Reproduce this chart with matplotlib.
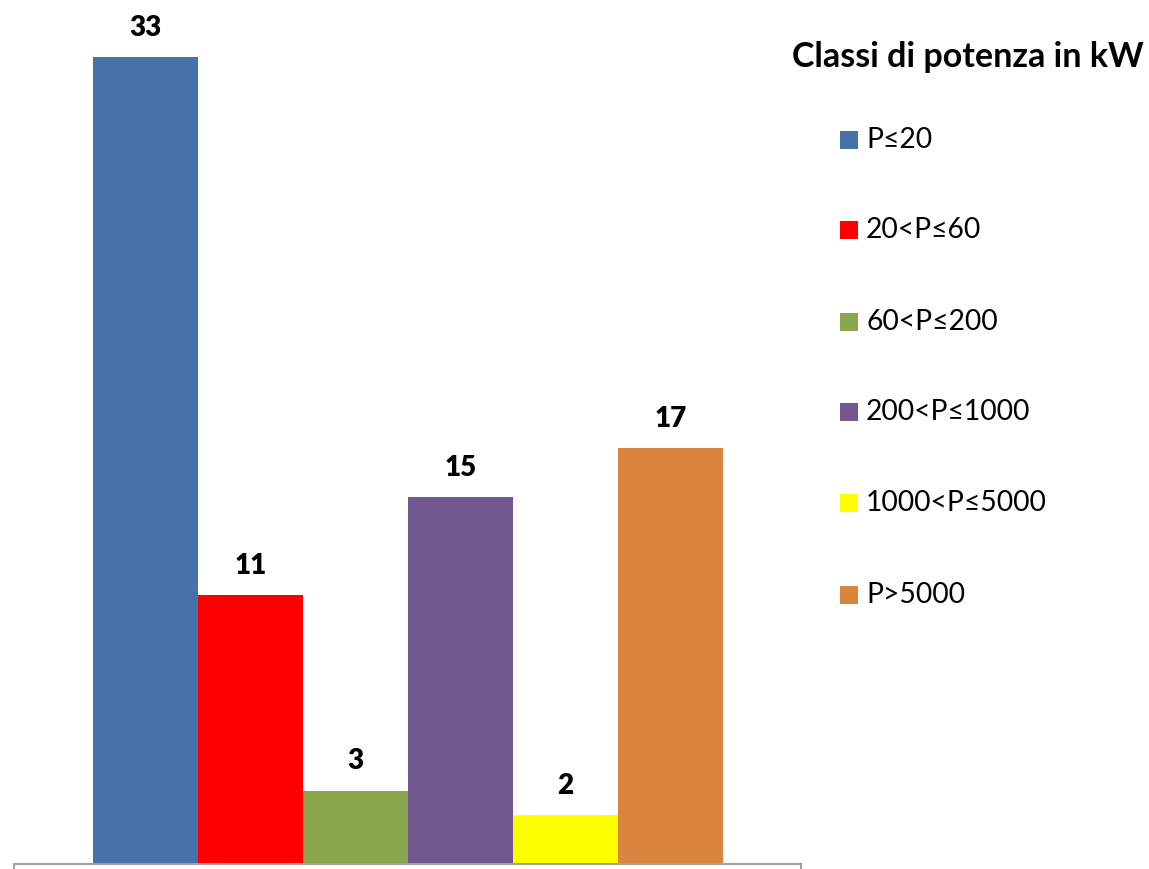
import matplotlib
matplotlib.use("Agg")
import matplotlib.pyplot as plt
from matplotlib.patches import Rectangle

categories = ["P≤20", "20<P≤60", "60<P≤200", "200<P≤1000", "1000<P≤5000", "P>5000"]
values = [33, 11, 3, 15, 2, 17]
colors = ["#4672A8", "#FF0000", "#89A54E", "#71588F", "#FFFF00", "#DB843D"]
legend_title = "Classi di potenza in kW"

plt.rcParams['font.family'] = ['Lato', 'DejaVu Sans']

W, H = 1149, 869
fig = plt.figure(figsize=(W / 100, H / 100), dpi=100)
ax = fig.add_axes([14 / W, 5 / H, (801 - 14) / W, 864 / H])

xs = list(range(len(values)))
for x, v, c, lab in zip(xs, values, colors, categories):
    ax.bar(x, v, width=1.0, color=c, label=lab, linewidth=0)
    ax.text(x, v + 1.2, str(v), ha='center', va='center', fontsize=20,
            fontweight='heavy', color='black')

xmin, xmax = -0.5 - 79 / 105, 5.5 + 78 / 105
ax.set_xlim(xmin, xmax)
ax.set_ylim(0, 864 / 24.455)
for s in ['left', 'right', 'top']:
    ax.spines[s].set_visible(False)
ax.spines['bottom'].set_color('#A0A0A0')
ax.spines['bottom'].set_linewidth(1.5)
ax.set_yticks([])
ax.set_xticks([xmin, xmax])
ax.set_xticklabels([])
ax.tick_params(axis='x', direction='out', length=6, color='#A0A0A0', width=1.5)

# legend (drawn in figure pixel coordinates)
def fx(px):
    return px / W

def fy(py):
    return 1 - py / H

fig.text(fx(792), fy(57), legend_title, ha='left', va='center', fontsize=24.5,
         fontweight='bold', color='black')
row_y = [140, 230, 322, 412, 503, 595]
for yy, c, lab in zip(row_y, colors, categories):
    fig.patches.append(Rectangle((fx(840), fy(yy + 9)), 18 / W, 18 / H,
                                 transform=fig.transFigure, facecolor=c,
                                 edgecolor='none'))
    fig.text(fx(866), fy(yy), lab, ha='left', va='center', fontsize=20.3,
             color='black')

fig.savefig("out.png", dpi=100)
